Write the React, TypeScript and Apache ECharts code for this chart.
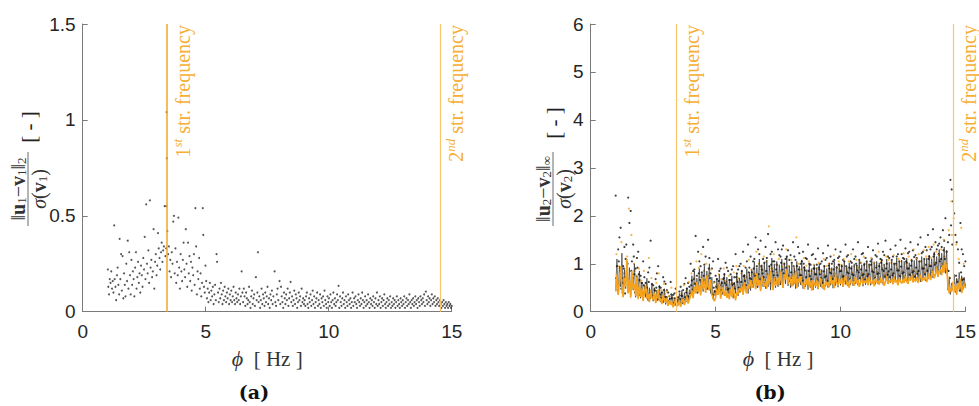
import React, { useEffect, useRef } from 'react';
import * as echarts from 'echarts';

// ---------- axes / reference lines ----------
const X_MIN = 0;
const X_MAX = 15;
const X_INTERVAL = 5;
const Y_A_MAX = 1.5;
const Y_A_INTERVAL = 0.5;
const Y_B_MAX = 6;
const Y_B_INTERVAL = 1;
const STRUCT_FREQS = [3.41, 14.52];
const STRUCT_LABELS = [['1', 'st'], ['2', 'nd']];

// ---------- panel (a): [frequency Hz, normalised L2 error] ----------
const ERR_A_POINTS: [number, number][] = [
  [1.02,0.22],[1.04,0.13],[1.07,0.09],[1.1,0.17],[1.13,0.15],[1.16,0.21],[1.19,0.12],[1.22,0.16],[1.25,0.1],[1.28,0.45],
  [1.3,0.17],[1.33,0.13],[1.36,0.06],[1.39,0.19],[1.42,0.23],[1.45,0.14],[1.48,0.09],[1.5,0.38],[1.53,0.17],[1.56,0.3],
  [1.59,0.11],[1.62,0.29],[1.65,0.07],[1.68,0.2],[1.71,0.14],[1.74,0.08],[1.77,0.25],[1.8,0.16],[1.83,0.37],[1.86,0.12],
  [1.89,0.31],[1.92,0.19],[1.95,0.09],[1.98,0.27],
  [2.01,0.14],[2.04,0.21],[2.07,0.17],[2.1,0.08],[2.13,0.23],[2.16,0.31],[2.19,0.12],[2.22,0.18],[2.25,0.26],[2.28,0.15],
  [2.31,0.2],[2.34,0.1],[2.37,0.24],[2.4,0.19],[2.43,0.13],[2.46,0.28],[2.49,0.22],[2.52,0.39],[2.55,0.17],[2.58,0.56],
  [2.61,0.25],[2.64,0.2],[2.67,0.32],[2.7,0.15],[2.73,0.58],[2.76,0.23],[2.79,0.27],[2.82,0.18],[2.85,0.21],[2.88,0.43],
  [2.91,0.12],[2.94,0.26],[2.97,0.3],[3.0,0.19],[3.03,0.24],[3.06,0.41],[3.09,0.33],[3.12,0.28],[3.15,0.22],[3.18,0.31],
  [3.21,0.36],[3.24,0.26],[3.27,0.32],[3.3,0.34],[3.33,0.55],[3.36,0.29],[3.39,0.33],
  [3.41,1.04],[3.42,0.8],[3.44,0.42],[3.4,0.55],
  [3.47,0.3],[3.5,0.34],[3.53,0.21],[3.56,0.27],[3.59,0.18],[3.62,0.31],[3.65,0.25],[3.68,0.47],[3.71,0.5],[3.74,0.2],
  [3.77,0.33],[3.8,0.15],[3.83,0.26],[3.86,0.19],[3.89,0.49],[3.92,0.23],[3.95,0.12],[3.98,0.3],[4.01,0.21],[4.04,0.16],
  [4.07,0.27],[4.1,0.36],[4.13,0.22],[4.16,0.18],[4.19,0.43],[4.22,0.25],[4.25,0.13],[4.28,0.36],[4.31,0.2],[4.34,0.29],
  [4.37,0.16],[4.4,0.26],[4.43,0.11],[4.46,0.23],[4.49,0.19],[4.52,0.3],[4.55,0.14],[4.58,0.54],[4.61,0.34],[4.64,0.09],
  [4.67,0.21],[4.7,0.17],[4.73,0.28],[4.76,0.12],[4.79,0.2],[4.82,0.08],[4.85,0.15],[4.88,0.54],[4.9,0.4],[4.93,0.13],
  [4.96,0.1],[4.99,0.24],
  [5.02,0.16],[5.05,0.07],[5.08,0.12],[5.11,0.05],[5.14,0.1],[5.17,0.15],[5.2,0.06],[5.23,0.11],[5.26,0.08],[5.29,0.13],
  [5.32,0.04],[5.35,0.09],[5.38,0.14],[5.41,0.06],[5.44,0.3],[5.46,0.26],[5.5,0.1],[5.53,0.05],[5.56,0.12],[5.59,0.07],
  [5.62,0.15],[5.65,0.09],[5.68,0.04],[5.71,0.11],[5.74,0.06],[5.77,0.13],[5.8,0.08],[5.83,0.05],[5.86,0.1],[5.89,0.07],
  [5.92,0.12],[5.95,0.04],[5.98,0.09],[6.01,0.06],[6.04,0.11],[6.07,0.05],[6.1,0.08],[6.13,0.13],[6.16,0.06],[6.19,0.04],
  [6.22,0.1],[6.25,0.07],[6.28,0.05],[6.31,0.09],[6.34,0.06],[6.37,0.12],[6.4,0.04],[6.43,0.08],[6.46,0.21],[6.49,0.1],
  [6.52,0.05],[6.55,0.12],[6.58,0.08],[6.61,0.03],[6.64,0.1],[6.67,0.07],[6.7,0.04],[6.73,0.06],[6.76,0.13],[6.79,0.05],
  [6.82,0.02],[6.85,0.08],[6.88,0.11],[6.91,0.04],[6.94,0.07],[6.97,0.09],[7.0,0.03],[7.04,0.18],[7.07,0.06],[7.1,0.1],
  [7.12,0.31],[7.15,0.05],[7.18,0.08],[7.21,0.02],[7.24,0.06],[7.27,0.12],[7.3,0.04],[7.33,0.09],[7.36,0.07],[7.39,0.03],
  [7.42,0.1],[7.45,0.05],[7.48,0.08],[7.51,0.13],[7.54,0.04],[7.57,0.07],[7.6,0.02],[7.63,0.09],[7.66,0.06],[7.69,0.11],
  [7.72,0.04],[7.75,0.08],[7.8,0.21],[7.83,0.05],[7.86,0.03],[7.89,0.09],[7.92,0.12],[7.95,0.06],[8.0,0.16],[8.03,0.04],
  [8.06,0.13],[8.09,0.08],[8.12,0.05],[8.15,0.02],[8.18,0.1],[8.21,0.07],[8.24,0.04],[8.27,0.09],[8.3,0.06],[8.33,0.12],
  [8.36,0.03],[8.39,0.07],[8.42,0.1],[8.45,0.155],[8.48,0.05],[8.51,0.08],[8.54,0.03],[8.57,0.06],[8.6,0.11],[8.63,0.04],
  [8.66,0.09],[8.69,0.07],[8.72,0.02],[8.75,0.05],[8.78,0.1],[8.81,0.06],[8.84,0.08],[8.87,0.03],[8.9,0.12],[8.93,0.05],
  [8.96,0.07],[8.99,0.04],
  [9.02,0.06],[9.05,0.03],[9.08,0.08],[9.11,0.1],[9.14,0.04],[9.17,0.02],[9.2,0.07],[9.23,0.05],[9.26,0.09],[9.29,0.03],
  [9.32,0.06],[9.35,0.11],[9.38,0.04],[9.41,0.08],[9.44,0.02],[9.47,0.05],[9.5,0.07],[9.53,0.1],[9.56,0.03],[9.59,0.06],
  [9.62,0.04],[9.65,0.09],[9.68,0.02],[9.71,0.07],[9.74,0.05],[9.77,0.08],[9.8,0.03],[9.83,0.11],[9.86,0.06],[9.89,0.04],
  [9.92,0.02],[9.95,0.08],[9.98,0.05],[10.01,0.07],[10.04,0.03],[10.07,0.09],[10.1,0.05],[10.13,0.02],[10.16,0.06],[10.19,0.1],
  [10.22,0.04],[10.25,0.07],[10.28,0.03],[10.31,0.05],[10.34,0.09],[10.37,0.06],[10.4,0.135],[10.43,0.02],[10.46,0.08],[10.49,0.05],
  [10.52,0.03],[10.55,0.07],[10.58,0.1],[10.61,0.04],[10.64,0.06],[10.67,0.02],[10.7,0.08],[10.73,0.05],[10.76,0.03],[10.79,0.09],
  [10.82,0.06],[10.85,0.04],[10.88,0.07],[10.91,0.02],[10.94,0.05],[10.97,0.1],[11.0,0.03],[11.03,0.07],[11.06,0.05],[11.09,0.08],
  [11.12,0.04],[11.15,0.02],[11.18,0.06],[11.21,0.09],[11.24,0.05],[11.27,0.03],[11.3,0.07],[11.33,0.04],[11.36,0.1],[11.39,0.06],
  [11.42,0.02],[11.45,0.05],[11.48,0.08],[11.51,0.03],[11.54,0.06],[11.57,0.04],[11.6,0.09],[11.63,0.05],[11.66,0.02],[11.69,0.07],
  [11.72,0.04],[11.75,0.06],[11.78,0.03],[11.81,0.08],[11.84,0.05],[11.87,0.02],[11.9,0.07],[11.93,0.04],[11.96,0.1],[11.99,0.03],
  [12.02,0.06],[12.05,0.04],[12.08,0.08],[12.11,0.02],[12.14,0.05],[12.17,0.07],[12.2,0.03],[12.23,0.06],[12.26,0.09],[12.29,0.04],
  [12.32,0.02],[12.35,0.05],[12.38,0.07],[12.41,0.03],[12.44,0.06],[12.47,0.04],[12.5,0.08],[12.53,0.02],[12.56,0.05],[12.59,0.03],
  [12.62,0.07],[12.65,0.04],[12.68,0.06],[12.71,0.02],[12.74,0.05],[12.77,0.08],[12.8,0.03],[12.83,0.06],[12.86,0.04],[12.89,0.02],
  [12.92,0.07],[12.95,0.05],[12.98,0.03],[13.01,0.06],[13.04,0.04],[13.07,0.08],[13.1,0.02],[13.13,0.05],[13.16,0.07],[13.19,0.03],
  [13.22,0.06],[13.25,0.04],[13.28,0.09],[13.31,0.05],[13.34,0.02],[13.37,0.06],[13.4,0.04],[13.43,0.07],[13.46,0.03],[13.49,0.05],
  [13.52,0.08],[13.55,0.04],[13.58,0.06],[13.61,0.02],[13.64,0.07],[13.67,0.05],[13.7,0.03],[13.73,0.08],[13.76,0.06],[13.79,0.04],
  [13.82,0.07],[13.85,0.05],[13.88,0.09],[13.91,0.03],[13.95,0.105],[13.98,0.06],[14.01,0.04],[14.04,0.08],[14.07,0.05],[14.1,0.07],
  [14.13,0.03],[14.16,0.06],[14.19,0.09],[14.22,0.04],[14.25,0.07],[14.28,0.05],[14.31,0.08],[14.34,0.03],[14.37,0.06],[14.4,0.04],
  [14.43,0.07],[14.46,0.05],[14.49,0.03],[14.52,0.06],[14.55,0.04],[14.58,0.02],[14.61,0.05],[14.64,0.03],[14.67,0.06],[14.7,0.04],
  [14.73,0.02],[14.76,0.05],[14.79,0.03],[14.82,0.04],[14.85,0.02],[14.88,0.05],[14.91,0.03],[14.94,0.04],[14.97,0.02],[15.0,0.03],
];

// ---------- panel (b): values on frequency grids ----------
const CORE_START = 1.0; // Hz
const CORE_STEP = 0.05; // Hz
const ORANGE_CORE = [
  0.42,0.78,0.35,0.61,0.95,0.48,0.30,0.70,0.52,1.10,
  0.38,0.66,0.29,0.85,0.47,0.58,0.33,0.72,0.26,0.55,
  0.31,0.48,0.22,0.41,0.55,0.27,0.36,0.20,0.44,0.30,
  0.25,0.39,0.18,0.33,0.46,0.22,0.28,0.16,0.35,0.24,
  0.19,0.29,0.12,0.24,0.15,0.21,0.09,0.18,0.26,0.11,
  0.16,0.23,0.10,0.20,0.27,0.14,0.22,0.31,0.17,0.26,
  0.33,0.45,0.28,0.52,0.38,0.62,0.41,0.55,0.34,0.70,
  0.47,0.63,0.39,0.75,0.52,0.44,0.66,0.36,0.28,0.22,
  0.30,0.46,0.35,0.58,0.27,0.42,0.51,0.33,0.45,0.29,
  0.38,0.26,0.47,0.31,0.52,0.34,0.24,0.41,0.36,0.49,
  0.42,0.55,0.35,0.61,0.44,0.38,0.57,0.47,0.66,0.50,
  0.58,0.72,0.47,0.80,0.55,0.66,0.43,0.74,0.61,0.52,
  0.63,0.48,0.77,0.56,0.85,0.60,0.45,0.70,0.54,0.66,
  0.71,0.55,0.82,0.62,0.50,0.78,0.67,0.88,0.58,0.73,
  0.64,0.52,0.76,0.58,0.83,0.49,0.69,0.61,0.74,0.55,
  0.60,0.47,0.68,0.56,0.72,0.51,0.63,0.44,0.66,0.58,
  0.53,0.67,0.48,0.61,0.70,0.50,0.58,0.45,0.64,0.55,
  0.62,0.51,0.74,0.57,0.66,0.49,0.78,0.60,0.55,0.69,
  0.58,0.71,0.52,0.64,0.75,0.56,0.62,0.50,0.68,0.60,
  0.63,0.54,0.72,0.59,0.66,0.52,0.61,0.70,0.57,0.64,
  0.60,0.68,0.55,0.73,0.62,0.57,0.66,0.53,0.70,0.61,
  0.64,0.56,0.71,0.60,0.67,0.54,0.63,0.74,0.58,0.65,
  0.62,0.69,0.57,0.72,0.61,0.66,0.55,0.70,0.63,0.59,
  0.67,0.60,0.74,0.63,0.58,0.71,0.65,0.76,0.61,0.68,
  0.64,0.72,0.60,0.69,0.77,0.63,0.70,0.66,0.74,0.62,
  0.71,0.80,0.66,0.75,0.85,0.70,0.78,0.92,0.73,0.84,
  0.88,0.76,0.97,0.82,1.05,0.90,0.55,0.38,0.48,0.42,
  0.62,0.41,0.55,0.35,0.60,0.47,0.68,0.39,0.52,0.58,
  0.49,
];
const BLACK_CORE = [
  0.45,1.10,0.38,0.95,0.52,1.22,0.35,0.88,0.48,1.05,
  0.40,0.92,0.33,0.80,0.45,1.00,0.30,0.75,0.42,0.85,
  0.28,0.62,0.24,0.55,0.30,0.70,0.22,0.50,0.27,0.58,
  0.22,0.50,0.19,0.45,0.25,0.55,0.20,0.42,0.18,0.48,
  0.15,0.32,0.12,0.28,0.16,0.35,0.11,0.30,0.13,0.26,
  0.16,0.38,0.14,0.45,0.18,0.40,0.20,0.50,0.22,0.46,
  0.38,0.75,0.34,0.85,0.40,0.70,0.45,0.90,0.36,0.80,
  0.42,0.95,0.40,0.85,0.48,1.00,0.38,0.72,0.26,0.45,
  0.33,0.70,0.36,0.78,0.32,0.65,0.40,0.80,0.34,0.72,
  0.30,0.68,0.35,0.75,0.28,0.62,0.38,0.80,0.33,0.70,
  0.42,0.85,0.40,0.78,0.46,0.90,0.38,0.82,0.44,0.88,
  0.50,1.05,0.48,0.92,0.55,1.10,0.46,0.98,0.52,1.02,
  0.48,1.08,0.52,0.95,0.45,1.12,0.55,1.00,0.50,1.05,
  0.52,0.98,0.56,1.10,0.50,1.02,0.58,1.15,0.54,0.96,
  0.50,1.00,0.55,0.92,0.48,1.05,0.52,0.95,0.56,1.08,
  0.48,0.95,0.52,0.88,0.46,1.00,0.50,0.90,0.45,0.98,
  0.50,0.92,0.47,1.00,0.52,0.88,0.48,0.96,0.53,0.90,
  0.50,1.02,0.55,0.92,0.49,1.05,0.54,0.95,0.51,1.00,
  0.55,0.98,0.52,1.05,0.57,0.94,0.53,1.02,0.56,0.96,
  0.54,1.00,0.58,0.95,0.55,1.06,0.57,0.98,0.53,1.02,
  0.56,1.04,0.59,0.97,0.55,1.08,0.60,1.00,0.57,1.05,
  0.58,1.02,0.61,1.08,0.57,0.99,0.62,1.10,0.59,1.03,
  0.60,1.06,0.58,1.00,0.63,1.12,0.59,1.04,0.62,1.08,
  0.61,1.05,0.64,1.12,0.60,1.02,0.65,1.10,0.62,1.07,
  0.63,1.10,0.66,1.04,0.62,1.15,0.67,1.08,0.64,1.12,
  0.68,1.18,0.72,1.10,0.70,1.25,0.75,1.15,0.73,1.30,
  0.78,1.22,0.82,1.35,0.80,1.28,0.45,0.68,0.36,0.60,
  0.45,0.78,0.40,0.70,0.48,0.82,0.42,0.75,0.46,0.72,
  0.50,
];
const SPARSE_STEP = 0.1;
const HIGH_START = 1.0;
const BLACK_HIGH = [
  2.42,1.30,1.75,0.95,1.10,2.38,2.10,1.40,0.90,1.25,
  0.75,1.05,0.60,0.82,1.48,0.55,0.68,0.95,0.50,0.72,
  0.58,0.40,0.62,0.35,0.48,0.30,0.52,0.45,0.70,0.60,
  1.00,0.85,1.58,1.25,0.95,1.35,1.15,1.50,0.80,1.05,
  0.75,1.10,0.90,0.68,1.02,0.85,0.78,0.95,1.20,0.88,
  1.00,1.25,0.92,1.40,1.15,1.05,1.55,1.30,1.48,1.10,
  1.35,1.62,1.20,1.05,1.45,1.30,1.15,1.38,1.10,1.28,
  1.18,1.45,1.08,1.35,1.00,1.25,1.12,1.40,0.98,1.20,
  1.10,1.32,1.00,1.22,1.08,1.38,1.15,1.05,1.30,1.12,
  1.25,1.08,1.40,1.18,1.05,1.30,1.15,1.45,1.02,1.22,
  1.12,1.35,1.05,1.28,1.18,1.42,1.10,1.25,1.48,1.15,
  1.30,1.15,1.38,1.20,1.50,1.12,1.32,1.22,1.45,1.28,
  1.18,1.40,1.55,1.25,1.35,1.60,1.30,1.72,1.45,1.38,
  1.55,1.70,1.95,1.45,2.75,2.30,1.60,1.30,1.85,1.20,
  1.05,
];
const ORANGE_HIGH_START = 1.03;
const ORANGE_HIGH = [
  1.20,0.95,1.45,0.80,1.05,2.15,1.60,1.00,0.75,0.90,
  0.65,0.85,0.55,1.12,0.70,0.48,0.60,0.80,0.45,0.58,
  0.42,0.33,0.50,0.28,0.40,0.26,0.38,0.55,0.44,0.62,
  0.80,0.70,1.05,0.92,1.20,0.85,1.00,0.75,0.88,0.60,
  0.55,0.78,0.68,0.90,0.62,0.75,0.58,0.82,0.95,0.70,
  0.80,0.95,0.72,1.08,0.88,0.78,1.25,1.00,0.92,1.15,
  1.05,1.78,0.90,1.20,0.98,1.10,0.85,1.00,1.30,0.95,
  1.08,0.92,1.55,1.00,0.88,1.12,0.96,1.05,0.85,0.98,
  0.90,1.02,0.85,1.10,0.95,1.00,0.88,1.18,0.92,1.05,
  0.98,1.10,0.90,1.05,1.20,0.95,1.08,0.92,1.02,1.15,
  1.00,0.94,1.12,1.02,0.96,1.25,1.05,0.98,1.15,1.08,
  1.02,1.18,0.98,1.10,1.05,1.22,1.00,1.15,1.08,1.30,
  1.10,1.20,1.05,1.28,1.15,1.35,1.12,1.40,1.25,1.18,
  1.30,1.50,1.25,1.70,2.30,1.95,1.40,1.10,1.75,1.00,
  0.95,
];
const MID_START = 1.05;
const BLACK_MID = [
  0.95,1.55,0.70,1.35,0.85,1.85,1.05,0.78,1.12,0.66,
  0.60,0.72,0.50,0.92,0.58,0.45,0.80,0.52,0.40,0.63,
  0.45,0.32,0.28,0.38,0.25,0.42,0.33,0.58,0.48,0.52,
  0.65,0.88,0.75,1.05,0.82,0.98,0.70,1.12,0.90,0.62,
  0.68,0.85,0.60,0.78,0.92,0.66,0.88,0.72,0.80,0.95,
  0.85,0.75,1.05,0.92,0.82,1.10,0.95,1.20,0.88,1.02,
  1.12,0.95,1.25,1.05,0.98,1.18,1.30,1.00,1.15,1.08,
  1.02,1.15,0.95,1.22,1.05,0.92,1.10,1.00,1.18,0.90,
  0.98,0.88,1.05,0.95,1.12,0.90,1.00,1.08,0.92,1.15,
  0.95,1.05,1.15,0.92,1.02,1.10,0.96,1.08,1.20,0.98,
  1.05,0.98,1.10,1.02,1.15,0.95,1.08,1.18,1.00,1.12,
  1.08,1.00,1.15,1.05,1.20,1.10,1.02,1.25,1.06,1.14,
  1.12,1.05,1.22,1.10,1.28,1.15,1.35,1.20,1.30,1.42,
  1.35,1.48,1.25,1.60,2.55,2.05,1.45,1.02,1.30,0.95,
];
const BAND_A_START = 1.025;
const BLACK_BAND_A = [
  0.70,1.05,0.48,0.90,1.40,0.62,0.85,1.15,0.52,0.78,
  0.42,0.55,0.35,0.62,0.40,0.30,0.50,0.38,0.28,0.45,
  0.30,0.22,0.36,0.18,0.28,0.20,0.34,0.25,0.40,0.32,
  0.55,0.68,0.48,0.80,0.62,0.75,0.58,0.90,0.45,0.50,
  0.52,0.64,0.45,0.70,0.56,0.48,0.66,0.58,0.72,0.50,
  0.62,0.74,0.55,0.82,0.68,0.90,0.60,0.78,0.95,0.72,
  0.85,0.70,0.98,0.76,0.88,0.66,1.02,0.80,0.92,0.74,
  0.82,0.95,0.70,0.88,0.76,1.00,0.72,0.85,0.68,0.90,
  0.78,0.92,0.70,0.84,0.74,0.96,0.80,0.88,0.72,0.98,
  0.85,0.74,0.95,0.80,0.90,0.76,1.00,0.82,0.88,0.78,
  0.86,0.78,0.98,0.82,0.92,0.80,1.02,0.85,0.90,0.84,
  0.88,0.80,1.00,0.86,0.94,0.82,1.05,0.90,0.96,0.84,
  0.92,0.85,1.05,0.90,0.98,1.10,0.95,1.15,1.02,1.20,
  1.10,1.28,1.00,0.85,1.80,0.60,0.75,0.55,0.82,0.68,
];
const BAND_B_START = 1.075;
const BLACK_BAND_B = [
  0.45,0.85,0.60,0.38,1.00,0.50,0.70,0.40,0.92,0.35,
  0.36,0.48,0.28,0.40,0.33,0.44,0.25,0.36,0.22,0.31,
  0.20,0.27,0.15,0.23,0.14,0.26,0.18,0.30,0.22,0.38,
  0.45,0.58,0.40,0.66,0.52,0.60,0.48,0.70,0.36,0.42,
  0.44,0.55,0.38,0.60,0.46,0.40,0.56,0.48,0.62,0.42,
  0.52,0.64,0.48,0.70,0.58,0.75,0.52,0.68,0.80,0.60,
  0.72,0.60,0.84,0.65,0.76,0.58,0.88,0.70,0.78,0.64,
  0.70,0.82,0.60,0.76,0.65,0.86,0.62,0.74,0.58,0.78,
  0.66,0.78,0.60,0.72,0.64,0.82,0.68,0.75,0.62,0.84,
  0.72,0.64,0.82,0.68,0.78,0.65,0.86,0.70,0.76,0.67,
  0.74,0.67,0.84,0.70,0.79,0.68,0.88,0.73,0.77,0.72,
  0.76,0.69,0.86,0.74,0.80,0.71,0.90,0.77,0.82,0.73,
  0.79,0.73,0.90,0.78,0.85,0.95,0.82,0.98,0.88,1.05,
  0.95,1.10,0.86,0.70,1.40,0.48,0.62,0.44,0.66,0.55,
];
const ORANGE_BAND_START = 1.06;
const ORANGE_BAND = [
  0.58,0.90,0.40,0.72,1.15,0.45,0.65,0.85,0.35,0.62,
  0.38,0.52,0.30,0.45,0.35,0.28,0.42,0.32,0.26,0.37,
  0.24,0.18,0.30,0.14,0.22,0.16,0.27,0.20,0.33,0.28,
  0.48,0.60,0.42,0.72,0.55,0.66,0.50,0.80,0.40,0.35,
  0.48,0.58,0.40,0.64,0.50,0.44,0.60,0.52,0.66,0.46,
  0.55,0.68,0.50,0.76,0.62,0.80,0.56,0.72,0.86,0.66,
  0.78,0.64,0.90,0.70,0.82,0.62,0.94,0.74,0.84,0.68,
  0.75,0.86,0.64,0.80,0.70,0.90,0.66,0.78,0.62,0.82,
  0.70,0.82,0.64,0.76,0.68,0.86,0.72,0.80,0.66,0.88,
  0.76,0.68,0.86,0.72,0.82,0.70,0.90,0.74,0.80,0.71,
  0.78,0.70,0.88,0.74,0.83,0.72,0.92,0.76,0.81,0.75,
  0.80,0.72,0.90,0.77,0.84,0.74,0.94,0.80,0.86,0.76,
  0.83,0.76,0.94,0.82,0.88,0.98,0.86,1.02,0.92,1.08,
  1.00,1.15,0.90,0.72,1.60,0.50,0.66,0.46,0.70,0.58,
];

// ---------- styles ----------
const ORANGE = '#F7A21B';
const LINE_STRONG = '#F5A623';
const LINE_SOFT = '#F9C46B';
const TEXT_DARK = '#262626';
const AXIS_GRAY = '#7a7a7a';
const SERIF = '"Liberation Serif", "DejaVu Serif", serif';

const onGrid = (vals: number[], start: number, step: number) =>
  vals.map((v, i) => [+(start + i * step).toFixed(3), v]);

function axisBase() {
  return {
    type: 'value',
    splitLine: { show: false },
    axisLine: { show: true, onZero: false, lineStyle: { color: AXIS_GRAY, width: 1 } },
    axisTick: { show: true, inside: true, length: 5, lineStyle: { color: AXIS_GRAY } },
    axisLabel: { color: TEXT_DARK, fontSize: 19, fontFamily: '"Liberation Sans", Arial, sans-serif' },
  };
}

function xAxisFor(gridIndex: number) {
  const a: any = axisBase();
  return {
    ...a,
    gridIndex,
    min: X_MIN,
    max: X_MAX,
    interval: X_INTERVAL,
    axisLabel: { ...a.axisLabel, margin: 10 },
    name: '{p|ϕ}{t|  [ Hz ]}',
    nameLocation: 'middle',
    nameGap: 36,
    nameTextStyle: {
      rich: {
        p: { fontFamily: SERIF, fontStyle: 'italic', fontSize: 22, color: '#333' },
        t: { fontFamily: SERIF, fontSize: 21, color: '#333' },
      },
    },
  };
}

function yAxisFor(gridIndex: number, max: number, interval: number) {
  const a: any = axisBase();
  return {
    ...a,
    gridIndex,
    min: 0,
    max,
    interval,
    axisLabel: { ...a.axisLabel, margin: 7 },
  };
}

function markLines(strongFirst: boolean) {
  return {
    silent: true,
    symbol: ['none', 'none'],
    label: { show: false },
    animation: false,
    data: STRUCT_FREQS.map((f, i) => ({
      xAxis: f,
      lineStyle: {
        color: strongFirst && i === 0 ? LINE_STRONG : LINE_SOFT,
        width: strongFirst && i === 0 ? 1.5 : 1.2,
        type: 'solid',
      },
    })),
  };
}

function yLabelGroup(cx: number, cy: number, sub: string, norm: string, bracketOffset: number) {
  const rich = {
    n: { fontFamily: SERIF, fontSize: 20, fill: '#333', lineHeight: 20, verticalAlign: 'middle' },
    i: { fontFamily: SERIF, fontStyle: 'italic', fontSize: 20, fill: '#333', lineHeight: 20 },
    b: { fontFamily: SERIF, fontWeight: 'bold', fontSize: 20, fill: '#333', lineHeight: 20 },
    s: { fontFamily: SERIF, fontSize: 13, fill: '#333', lineHeight: 20, verticalAlign: 'bottom' },
  };
  return {
    type: 'group',
    x: cx,
    y: cy,
    rotation: Math.PI / 2,
    silent: true,
    children: [
      {
        type: 'text',
        x: 0,
        y: 0,
        style: {
          text: `{n|‖}{b|u}{s|${sub}}{n|−}{b|v}{s|${sub}}{n|‖}{s|${norm}}`,
          rich,
          align: 'center',
          verticalAlign: 'bottom',
        },
      },
      {
        type: 'line',
        shape: { x1: -37, y1: 0, x2: 37, y2: 0 },
        style: { stroke: '#444', lineWidth: 0.8 },
      },
      {
        type: 'text',
        x: 0,
        y: 1,
        style: {
          text: `{i|σ}{n|(}{b|v}{s|${sub}}{n|)}`,
          rich,
          align: 'center',
          verticalAlign: 'top',
        },
      },
      {
        type: 'text',
        x: bracketOffset,
        y: 1,
        style: {
          text: '[ - ]',
          font: `21px ${SERIF}`,
          fill: '#222',
          align: 'center',
          verticalAlign: 'middle',
        },
      },
    ],
  };
}

export default function App() {
  const ref = useRef<HTMLDivElement>(null);

  useEffect(() => {
    if (!ref.current) return;
    const chart = echarts.init(ref.current, null, { renderer: 'svg' });

    const dots = (data: number[][], color: string) => ({
      type: 'scatter',
      xAxisIndex: 1,
      yAxisIndex: 1,
      data,
      symbolSize: 2.2,
      itemStyle: { color },
      silent: true,
    });

    const option: any = {
      animation: false,
      backgroundColor: '#ffffff',
      grid: [
        { left: 82.7, top: 24, width: 369, height: 287.7, containLabel: false },
        { left: 590.7, top: 24, width: 377.6, height: 287.7, containLabel: false },
      ],
      xAxis: [xAxisFor(0), xAxisFor(1)],
      yAxis: [yAxisFor(0, Y_A_MAX, Y_A_INTERVAL), yAxisFor(1, Y_B_MAX, Y_B_INTERVAL)],
      series: [
        {
          type: 'scatter',
          xAxisIndex: 0,
          yAxisIndex: 0,
          data: ERR_A_POINTS,
          symbolSize: 2,
          itemStyle: { color: '#2a2a2a' },
          silent: true,
          markLine: markLines(true),
        },
        {
          type: 'line',
          xAxisIndex: 1,
          yAxisIndex: 1,
          data: onGrid(BLACK_CORE, CORE_START, CORE_STEP),
          showSymbol: false,
          symbol: 'none',
          lineStyle: { color: '#111', width: 0.7, opacity: 0.8 },
          silent: true,
          markLine: markLines(false),
        },
        {
          type: 'line',
          xAxisIndex: 1,
          yAxisIndex: 1,
          data: onGrid(ORANGE_CORE, CORE_START, CORE_STEP),
          showSymbol: false,
          symbol: 'none',
          lineStyle: { color: ORANGE, width: 1.6 },
          silent: true,
        },
        dots(onGrid(ORANGE_BAND, ORANGE_BAND_START, SPARSE_STEP), ORANGE),
        dots(onGrid(BLACK_BAND_A, BAND_A_START, SPARSE_STEP), '#111'),
        dots(onGrid(BLACK_BAND_B, BAND_B_START, SPARSE_STEP), '#111'),
        dots(onGrid(BLACK_MID, MID_START, SPARSE_STEP), '#111'),
        dots(onGrid(BLACK_HIGH, HIGH_START, SPARSE_STEP), '#111'),
        dots(onGrid(ORANGE_HIGH, ORANGE_HIGH_START, SPARSE_STEP), ORANGE),
      ],
    };
    chart.setOption(option);

    const freqLabels: any[] = [];
    [0, 1].forEach((g) => {
      const yMax = g === 0 ? Y_A_MAX : Y_B_MAX;
      STRUCT_FREQS.forEach((f, i) => {
        const p = chart.convertToPixel({ gridIndex: g }, [f, yMax]) as number[];
        freqLabels.push({
          type: 'text',
          x: p[0] + 4,
          y: p[1] + 1,
          rotation: Math.PI / 2,
          silent: true,
          style: {
            text: `{n|${STRUCT_LABELS[i][0]}}{sup|${STRUCT_LABELS[i][1]}}{n| str. frequency}`,
            align: 'right',
            verticalAlign: 'top',
            rich: {
              n: { fontFamily: SERIF, fontSize: 20, fill: '#F6AE33', lineHeight: 22, verticalAlign: 'bottom' },
              sup: { fontFamily: SERIF, fontStyle: 'italic', fontSize: 13, fill: '#F6AE33', lineHeight: 22, verticalAlign: 'top' },
            },
          },
        });
      });
    });

    chart.setOption({
      graphic: [
        yLabelGroup(28, 189, '1', '2', 62),
        yLabelGroup(553, 189, '2', '∞', 66),
        {
          type: 'text',
          x: 254,
          y: 392,
          silent: true,
          style: { text: '(a)', font: 'bold 19px "DejaVu Serif", serif', fill: '#111', align: 'center', verticalAlign: 'middle' },
        },
        {
          type: 'text',
          x: 770,
          y: 392,
          silent: true,
          style: { text: '(b)', font: 'bold 19px "DejaVu Serif", serif', fill: '#111', align: 'center', verticalAlign: 'middle' },
        },
        ...freqLabels,
      ],
    });

    return () => chart.dispose();
  }, []);

  return (
    <div
      ref={ref}
      style={{ position: 'absolute', left: 0, top: 0, width: 979, height: 406, background: '#fff' }}
    />
  );
}
